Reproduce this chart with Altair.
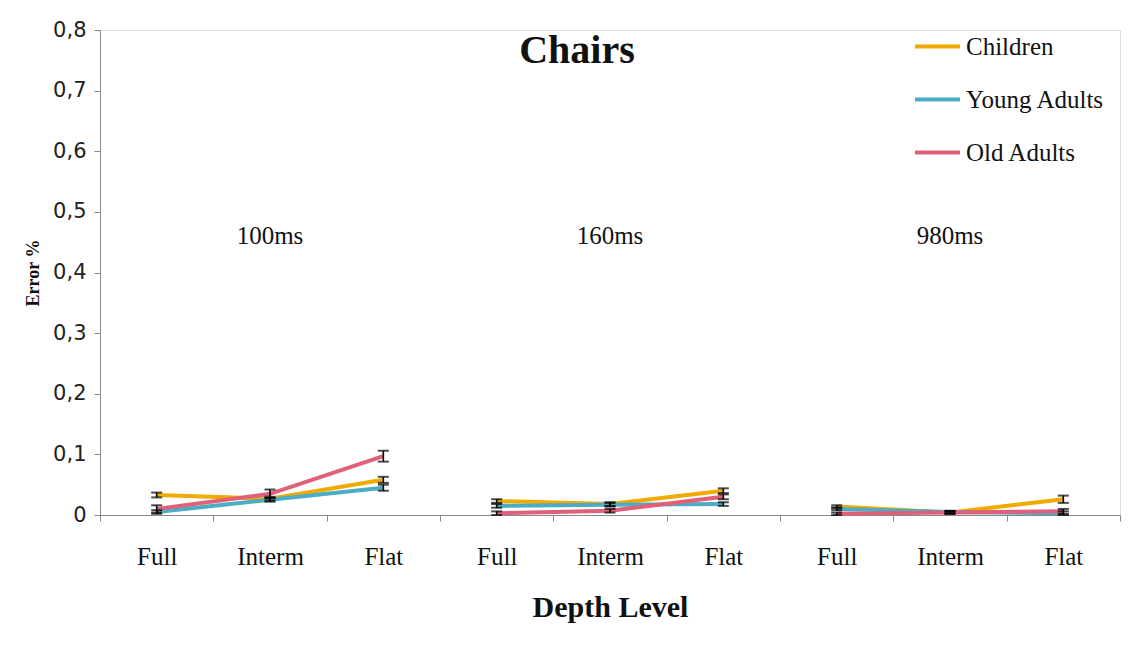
import altair as alt
import pandas as pd

# Presentation times and depth levels (x axis is grouped by time)
groups = ["100ms", "160ms", "980ms"]
levels = ["Full", "Interm", "Flat"]
series = ["Children", "Young Adults", "Old Adults"]
colors = ["#F0AA00", "#4BACC6", "#E0607A"]

# Mean error rate per group/level, in the order 100ms Full..Flat, 160ms ..., 980ms ...
children = [0.033, 0.027, 0.058, 0.023, 0.018, 0.040, 0.014, 0.004, 0.026]
young = [0.005, 0.025, 0.045, 0.015, 0.017, 0.018, 0.010, 0.005, 0.003]
old = [0.010, 0.035, 0.097, 0.003, 0.007, 0.030, 0.002, 0.004, 0.006]

# Standard error of each mean
children_se = [0.004, 0.003, 0.005, 0.003, 0.003, 0.004, 0.002, 0.002, 0.006]
young_se = [0.003, 0.003, 0.005, 0.003, 0.003, 0.003, 0.002, 0.002, 0.003]
old_se = [0.006, 0.007, 0.009, 0.003, 0.003, 0.004, 0.002, 0.002, 0.004]

y_ticks = [0, 0.1, 0.2, 0.3, 0.4, 0.5, 0.6, 0.7, 0.8]

cats = [f"{g}|{lv}" for g in groups for lv in levels]

rows = []
for name, vals, ses in zip(series, [children, young, old], [children_se, young_se, old_se]):
    for i, c in enumerate(cats):
        rows.append({
            "cat": c,
            "group": c.split("|")[0],
            "series": name,
            "value": vals[i],
            "lo": vals[i] - ses[i],
            "hi": vals[i] + ses[i],
        })
df = pd.DataFrame(rows)

labels_df = pd.DataFrame({"cat": [f"{g}|Interm" for g in groups], "label": groups, "y": [0.46] * 3})

serif = "Liberation Serif"

x = alt.X(
    "cat:N",
    sort=cats,
    bandPosition=0.5,
    scale=alt.Scale(type="band", domain=cats, paddingInner=0, paddingOuter=0),
    axis=alt.Axis(
        title="Depth Level",
        labelExpr="split(datum.label, '|')[1]",
        labelAngle=0,
        labelFont=serif,
        labelFontSize=25,
        labelColor="#111",
        labelPadding=23,
        tickBand="extent",
        tickSize=6,
        tickColor="#888",
        domainColor="#888",
        titleFont=serif,
        titleFontSize=30,
        titleFontWeight="bold",
        titleColor="#111",
        titlePadding=23,
    ),
)

y_scale = alt.Scale(domain=[0, 0.8], nice=False)
y_axis = alt.Axis(
    title="Error %",
    values=y_ticks,
    labelExpr="datum.value == 0 ? '0' : replace(format(datum.value, '.1f'), '.', ',')",
    labelFont="DejaVu Sans",
    labelFontSize=21,
    labelColor="#222",
    labelPadding=8,
    tickSize=6,
    tickColor="#888",
    domainColor="#888",
    grid=False,
    titleFont=serif,
    titleFontSize=18,
    titleFontWeight="bold",
    titleColor="#111",
    titlePadding=10,
)

color = alt.Color(
    "series:N",
    sort=series,
    scale=alt.Scale(domain=series, range=colors),
    legend=alt.Legend(
        title=None,
        orient="none",
        legendX=813,
        legendY=-8,
        symbolType="stroke",
        symbolSize=2025,
        symbolStrokeWidth=4,
        labelFont=serif,
        labelFontSize=25,
        labelColor="#111",
        rowPadding=15,
        labelOffset=4,
    ),
)

lines = alt.Chart(df).mark_line(strokeWidth=4).encode(
    x=x,
    y=alt.Y("value:Q", scale=y_scale, axis=y_axis),
    color=color,
    detail="group:N",
)

bars = alt.Chart(df).mark_rule(color="black", strokeWidth=1.6).encode(
    x=alt.X("cat:N", sort=cats, bandPosition=0.5),
    y="lo:Q",
    y2="hi:Q",
)

caps_lo = alt.Chart(df).mark_tick(color="black", thickness=2, size=11, orient="horizontal").encode(
    x=alt.X("cat:N", sort=cats, bandPosition=0.5),
    y="lo:Q",
)
caps_hi = alt.Chart(df).mark_tick(color="black", thickness=2, size=11, orient="horizontal").encode(
    x=alt.X("cat:N", sort=cats, bandPosition=0.5),
    y="hi:Q",
)

time_labels = alt.Chart(labels_df).mark_text(font=serif, fontSize=25, color="#111").encode(
    x=alt.X("cat:N", sort=cats, bandPosition=0.5),
    y="y:Q",
    text="label:N",
)

chart = (
    alt.layer(lines, bars, caps_lo, caps_hi, time_labels)
    .properties(
        width=1020,
        height=485,
        title=alt.TitleParams(
            "Chairs",
            font=serif,
            fontSize=40,
            fontWeight="bold",
            color="#111",
            anchor="middle",
            dx=-33,
            dy=56,
        ),
        autosize=alt.AutoSizeParams(type="none"),
        padding={"left": 100, "top": 30, "right": 13, "bottom": 152},
    )
    .configure_view(stroke=None)
    .configure(background="white")
)

chart.save("out.html", embed_options={"renderer": "svg", "actions": False})
